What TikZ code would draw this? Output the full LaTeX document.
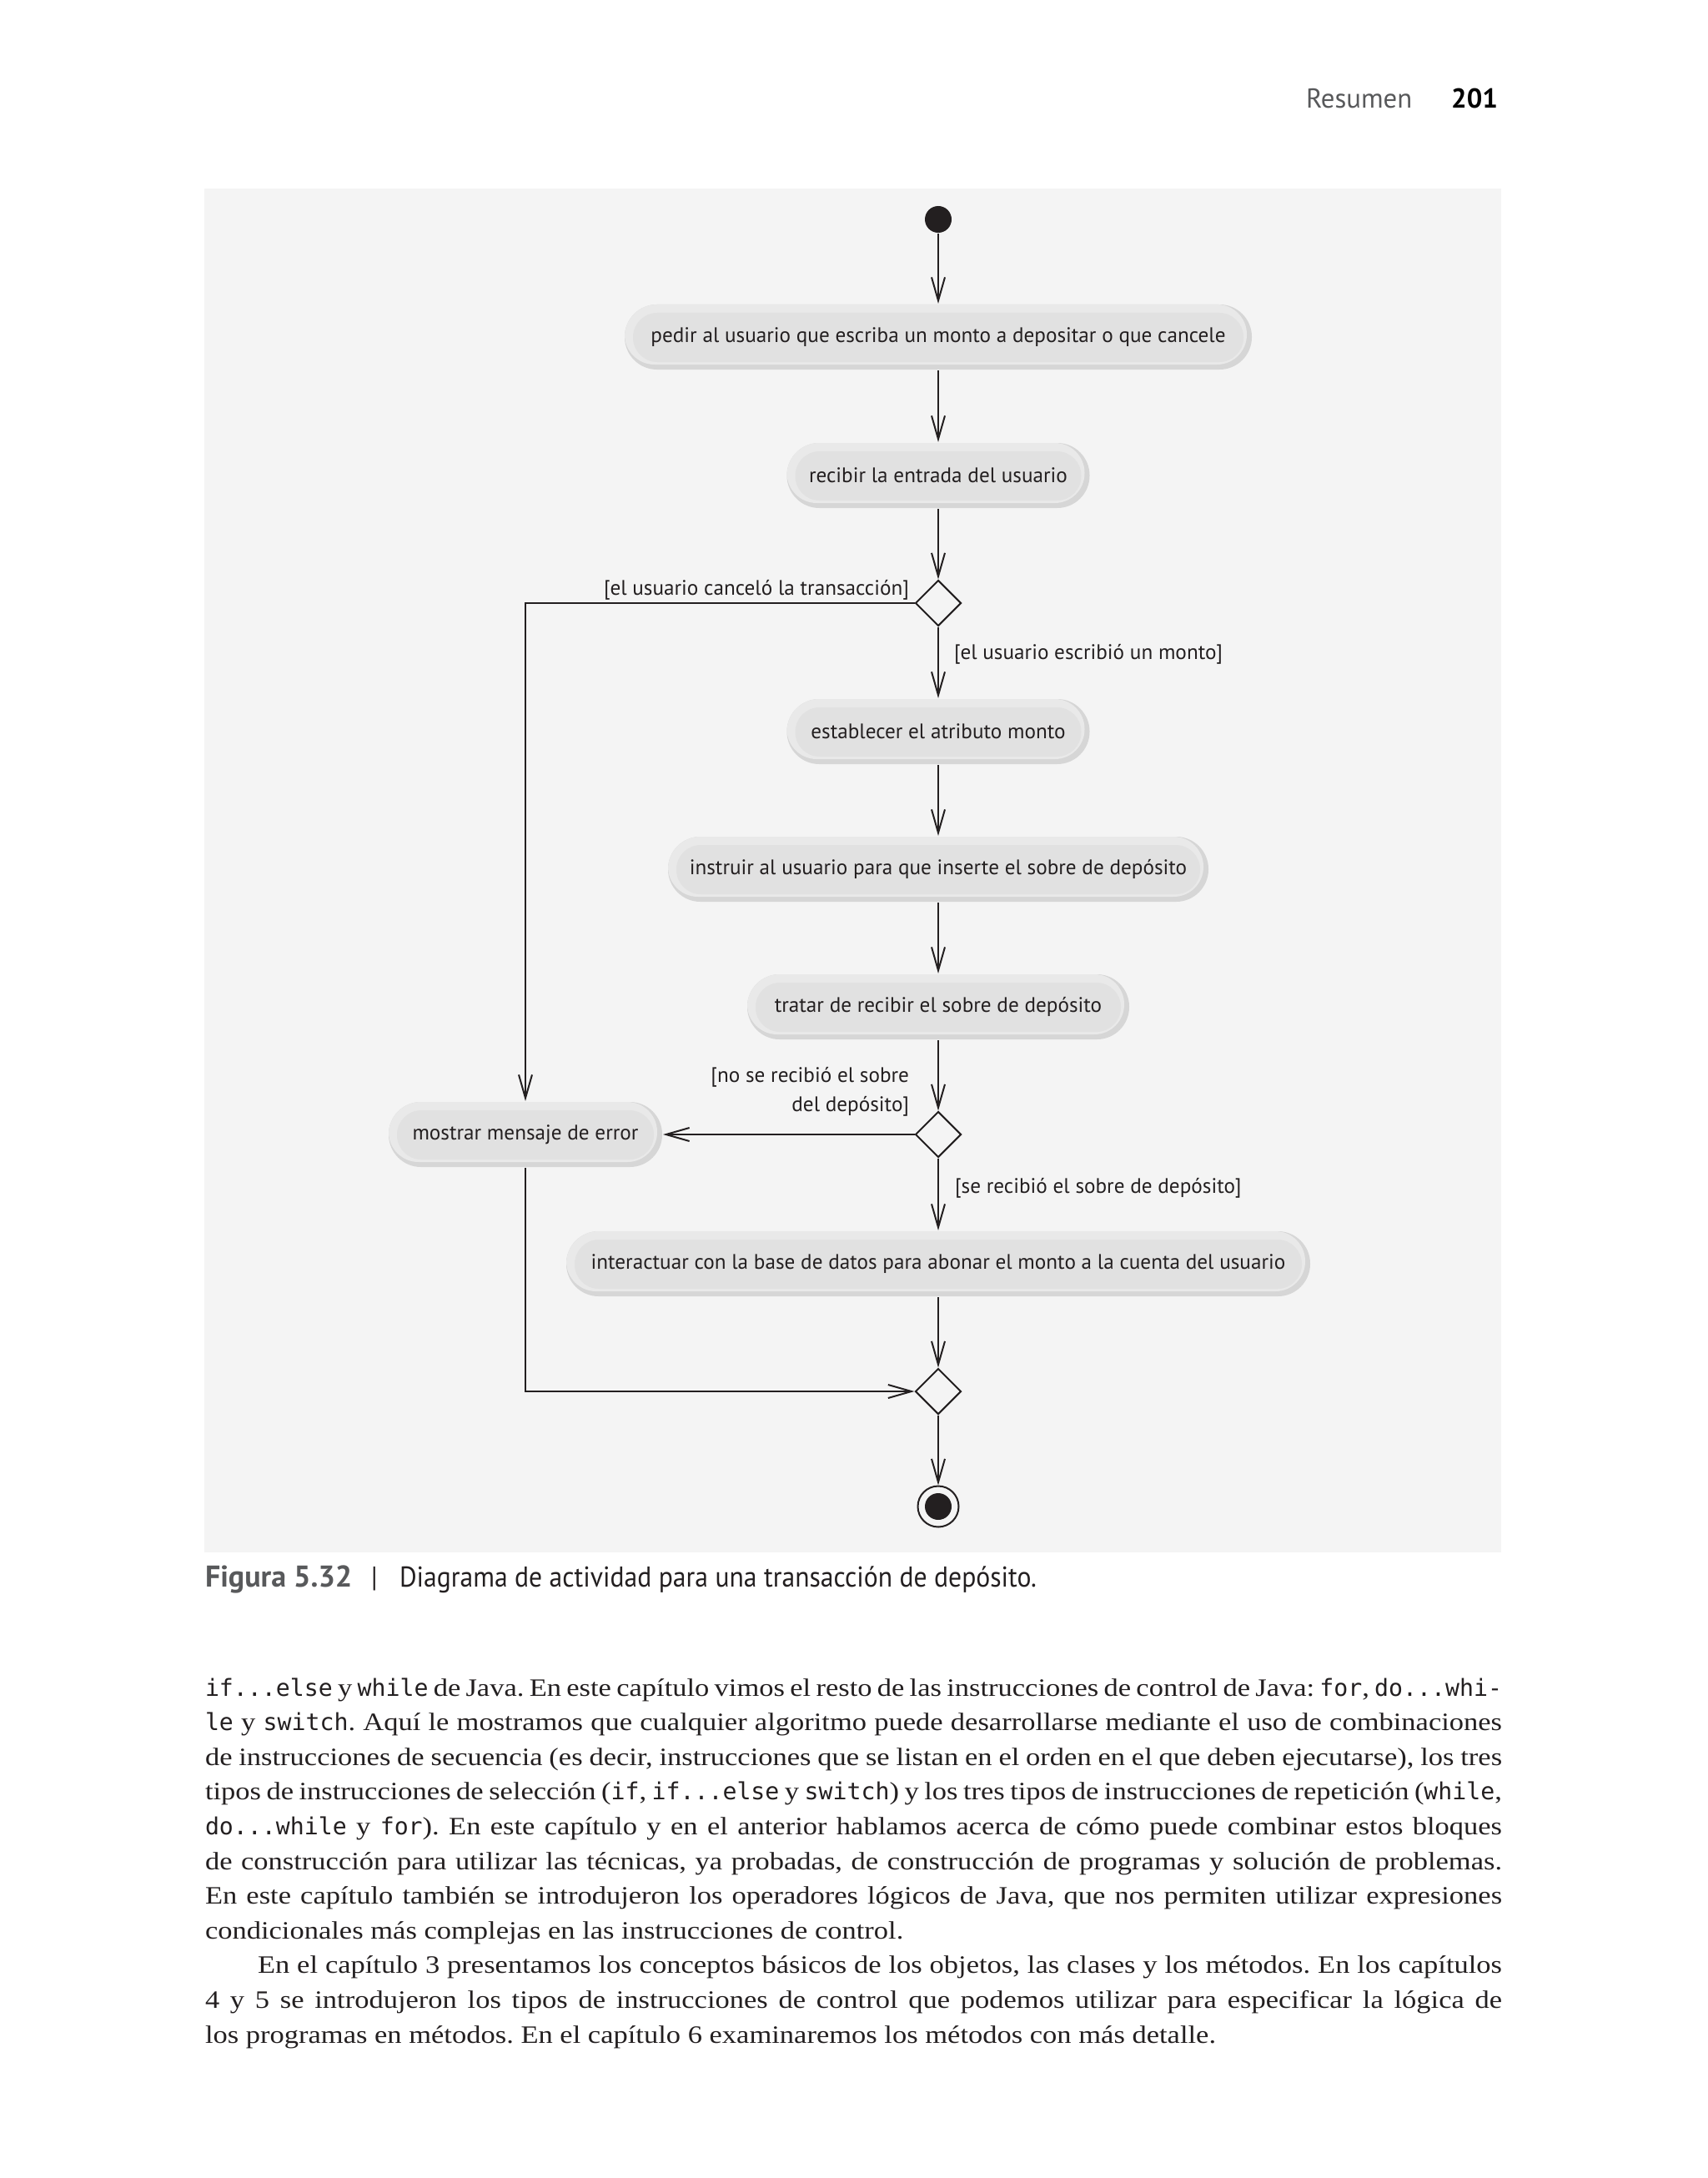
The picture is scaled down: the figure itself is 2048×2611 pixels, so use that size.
\documentclass[tikz,border=0pt]{standalone}
\usepackage{fontspec}
\setmainfont{Liberation Serif}[FakeStretch=1.15]
\setmonofont{DejaVu Sans Mono}[Scale=0.94]
\newfontfamily\dsans{PT Sans}[FakeStretch=0.92]
\newfontfamily\dsansn{PT Sans}
\usetikzlibrary{arrows.meta,shapes.geometric}
\definecolor{ink}{HTML}{231F20}
\definecolor{bggray}{HTML}{F4F4F4}
\definecolor{pilldark}{HTML}{D6D6D6}
\definecolor{pilllight}{HTML}{E9E9E9}
\definecolor{pillmid}{HTML}{E1E1E1}
\definecolor{headgray}{HTML}{58595B}
\newcommand{\diagfont}{\dsansn\fontsize{12.6pt}{15pt}\selectfont}
\newcommand{\headfont}{\dsansn\fontsize{16.4pt}{19pt}\selectfont}
\newcommand{\capfont}{\dsans\fontsize{17.2pt}{20pt}\selectfont}
\newcommand{\caplblfont}{\dsansn\fontsize{18pt}{20pt}\selectfont\bfseries}
\newcommand{\bodyfont}{\fontsize{15pt}{17pt}\selectfont\frenchspacing}
\newcommand{\jline}[1]{\makebox[777.5pt][s]{#1}}
\begin{document}
\begin{tikzpicture}[x=0.5pt,y=-0.5pt,
  line width=1pt,
  flow/.style={draw=ink, -{Straight Barb[length=14pt,width=8pt]}},
  pill/.style={draw=none, fill=pilldark, rounded corners=19.4pt, minimum height=39pt,
    inner sep=0pt, font=\diagfont, text=ink,
    path picture={
      \fill[pilllight, rounded corners=17.9pt] (path picture bounding box.north west)
        rectangle ([xshift=-3pt,yshift=3pt]path picture bounding box.south east);
      \fill[pillmid, rounded corners=14.6pt] ([xshift=5pt,yshift=-5pt]path picture bounding box.north west)
        rectangle ([xshift=-5pt,yshift=4.5pt]path picture bounding box.south east);
    }},
  decision/.style={diamond, draw=ink, line width=1pt, fill=bggray, minimum width=27.5pt,
    minimum height=27.5pt, inner sep=0pt, aspect=1},
  guard/.style={inner sep=0pt, font=\diagfont, text=ink},
  bodytext/.style={inner sep=0pt, font=\bodyfont, text=ink, anchor=base west}
]
\useasboundingbox (0,0) rectangle (2048,2611);
\fill[white] (0,0) rectangle (2048,2611);
\fill[bggray] (245,226) rectangle (1800,1861);

% header
\node[anchor=base west, inner sep=0pt, font=\headfont, text=headgray] (hdr) at (1565,130) {Resumen};
\node[anchor=base east, inner sep=0pt, font=\headfont\bfseries, text=black] (pg) at (1797,130) {201};

% diagram nodes
\node[circle, fill=ink, minimum size=16pt, inner sep=0pt] (start) at (1125,263) {};
\node[pill, minimum width=376pt] (n1) at (1125,404) {pedir al usuario que escriba un monto a depositar o que cancele};
\node[pill, minimum width=181.5pt] (n2) at (1125,570) {recibir la entrada del usuario};
\node[decision] (d1) at (1125,723) {};
\node[pill, minimum width=181.5pt] (n3) at (1125,877) {establecer el atributo monto};
\node[pill, minimum width=324pt] (n4) at (1125,1042) {instruir al usuario para que inserte el sobre de depósito};
\node[pill, minimum width=229pt] (n5) at (1125,1207) {tratar de recibir el sobre de depósito};
\node[decision] (d2) at (1125,1360) {};
\node[pill, minimum width=164pt] (err) at (630,1360) {mostrar mensaje de error};
\node[pill, minimum width=446pt] (n6) at (1125,1515) {interactuar con la base de datos para abonar el monto a la cuenta del usuario};
\node[decision] (d3) at (1125,1668) {};
\node[circle, draw=ink, line width=1pt, fill=bggray, minimum size=24.5pt, inner sep=0pt] (fin) at (1125,1806) {};
\node[circle, fill=ink, minimum size=16pt, inner sep=0pt] (finin) at (fin.center) {};

% guards
\node[guard, anchor=base east] (gcancel) at (1091,713) {[el usuario canceló la transacción]};
\node[guard, anchor=base west] (gmonto) at (1143,790) {[el usuario escribió un monto]};
\node[guard, anchor=base east] (gno1) at (1091,1297) {[no se recibió el sobre};
\node[guard, anchor=base east] (gno2) at (1091,1332) {del depósito]};
\node[guard, anchor=base west] (gsi) at (1144,1430) {[se recibió el sobre de depósito]};

% connectors
\draw[flow] (start) -- (n1);
\draw[flow] (n1) -- (n2);
\draw[flow] (n2) -- (d1);
\draw[flow] (d1.west) -| (err.north);
\draw[flow] (d1) -- (n3);
\draw[flow] (n3) -- (n4);
\draw[flow] (n4) -- (n5);
\draw[flow] (n5) -- (d2);
\draw[flow] (d2.west) -- (err.east);
\draw[flow] (d2) -- (n6);
\draw[flow] (n6) -- (d3);
\draw[flow] (err.south) |- (d3.west);
\draw[flow] (d3) -- (fin);

% caption
\node[anchor=base west, inner sep=0pt, font=\caplblfont, text=headgray] (figlbl) at (245,1902) {Figura 5.32};
\node[anchor=base, inner sep=0pt, font=\capfont, text=ink] (bar) at (449,1902) {|};
\node[anchor=base west, inner sep=0pt, font=\capfont, text=ink] (captxt) at (478,1902) {Diagrama de actividad para una transacción de depósito.};

% body text
\node[bodytext] (b1) at (245,2033) {\jline{\texttt{if...else} y \texttt{while} de Java. En este capítulo vimos el resto de las instrucciones de control de Java: \texttt{for}, \texttt{do...whi-}}};
\node[bodytext] (b2) at (245,2074.6) {\jline{\texttt{le} y \texttt{switch}. Aquí le mostramos que cualquier algoritmo puede desarrollarse mediante el uso de combinaciones}};
\node[bodytext] (b3) at (245,2116.2) {\jline{de instrucciones de secuencia (es decir, instrucciones que se listan en el orden en el que deben ejecutarse), los tres}};
\node[bodytext] (b4) at (245,2157.8) {\jline{tipos de instrucciones de selección (\texttt{if}, \texttt{if...else} y \texttt{switch}) y los tres tipos de instrucciones de repetición (\texttt{while},}};
\node[bodytext] (b5) at (245,2199.4) {\jline{\texttt{do...while} y \texttt{for}). En este capítulo y en el anterior hablamos acerca de cómo puede combinar estos bloques}};
\node[bodytext] (b6) at (245,2241) {\jline{de construcción para utilizar las técnicas, ya probadas, de construcción de programas y solución de problemas.}};
\node[bodytext] (b7) at (245,2282.6) {\jline{En este capítulo también se introdujeron los operadores lógicos de Java, que nos permiten utilizar expresiones}};
\node[bodytext] (b8) at (245,2324.2) {condicionales más complejas en las instrucciones de control.};
\node[bodytext] (b9) at (308,2365.8) {\makebox[746pt][s]{En el capítulo 3 presentamos los conceptos básicos de los objetos, las clases y los métodos. En los capítulos}};
\node[bodytext] (b10) at (245,2407.4) {\jline{4 y 5 se introdujeron los tipos de instrucciones de control que podemos utilizar para especificar la lógica de}};
\node[bodytext] (b11) at (245,2449) {los programas en métodos. En el capítulo 6 examinaremos los métodos con más detalle.};
\end{tikzpicture}
\end{document}
